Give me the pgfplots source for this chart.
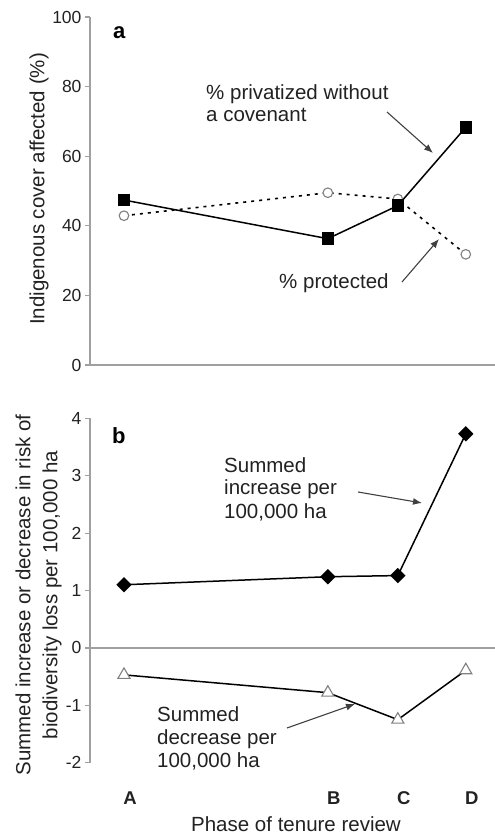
\documentclass[border=0pt]{standalone}
\usepackage{pgfplots}
\pgfplotsset{compat=1.18}
\usetikzlibrary{arrows.meta}
\usepackage{fontspec}
\setmainfont{Liberation Sans}
\definecolor{axgray}{HTML}{A0A0A0}
\definecolor{mkgray}{HTML}{808080}
\definecolor{arrgray}{HTML}{404040}
\definecolor{txt}{HTML}{222222}
\begin{document}
\begin{tikzpicture}[x=1pt,y=1pt]
\useasboundingbox (0,0) rectangle (495,838);
\pgfplotsset{
  every axis/.append style={
    scale only axis, width=405pt, clip=false,
    xmin=0.5, xmax=6.46,
    axis x line*=bottom, axis y line*=left,
    axis line style={axgray, line width=1.2pt},
    tick align=outside, major tick length=5pt,
    tick style={axgray, line width=1.2pt},
    yticklabel style={font=\fontsize{17.5}{17.5}\selectfont, text=txt},
    /pgf/number format/assume math mode=true,
  }
}
% Panel a
\begin{axis}[at={(90pt,473pt)}, anchor=south west, height=348pt,
  ymin=0, ymax=100, ytick={0,20,40,60,80,100}, xtick=\empty]
\addplot[black, line width=1.5pt, mark=square*, mark size=5.5pt, mark options={solid, fill=black}]
  coordinates {(1,47.4) (4,36.3) (5.03,45.8) (6.03,68.3)};
\addplot[black, line width=1.6pt, dash pattern=on 3pt off 5pt, mark=*, mark size=4.8pt, mark options={solid, draw=mkgray, fill=white, line width=1.1pt}]
  coordinates {(1,42.9) (4,49.5) (5.03,47.7) (6.03,31.8)};
\addplot[black, line width=1.5pt, mark=square*, mark size=5.5pt, mark options={solid, fill=black}]
  coordinates {(5.03,45.8)};
\end{axis}
% Panel b
\begin{axis}[at={(90pt,75.3pt)}, anchor=south west, height=344.4pt,
  ymin=-2, ymax=4, ytick={-2,-1,0,1,2,3,4},
  x axis line style={draw=none},
  xtick={1,4,5.03,6.03}, xticklabels={A,B,C,D},
  major x tick style={draw=none},
  xticklabel style={font=\bfseries\fontsize{18.5}{18.5}\selectfont, text=txt, anchor=base, xshift=6pt, yshift=-36.5pt}]
\draw[axgray, line width=1.2pt] (axis cs:0.5,0) -- (axis cs:6.46,0);
\addplot[black, line width=1.5pt, mark=square*, mark size=4.7pt, mark options={rotate=45, fill=black}]
  coordinates {(1,1.10) (4,1.24) (5.03,1.26) (6.03,3.73)};
\addplot[black, line width=1.5pt, mark=triangle*, mark size=7pt, mark options={draw=mkgray, fill=white, line width=1.1pt}]
  coordinates {(1,-0.47) (4,-0.78) (5.03,-1.25) (6.03,-0.39)};
\end{axis}
% Axis labels
\node[rotate=90, font=\fontsize{20.5}{23}\selectfont, text=txt] at (39,649) {Indigenous cover affected (\%)};
\node[rotate=90, align=center, font=\fontsize{20.5}{27}\selectfont, text=txt] at (38.5,243) {Summed increase or decrease in risk of\\biodiversity loss per 100,000 ha};
\node[anchor=base, font=\fontsize{20.5}{23}\selectfont, text=txt, inner sep=0] at (296,6.3) {Phase of tenure review};
% Panel letters
\node[anchor=base west, inner sep=0, font=\bfseries\fontsize{22}{22}\selectfont] at (113,799) {a};
\node[anchor=base west, inner sep=0, font=\bfseries\fontsize{22}{22}\selectfont] at (112,394) {b};
% Annotations
\begin{scope}[every node/.style={anchor=base west, inner sep=0, font=\fontsize{20.5}{23}\selectfont, text=txt}]
\node at (206,738) {\% privatized without};
\node at (206,716) {a covenant};
\node at (279,549) {\% protected};
\node at (224,365.3) {Summed};
\node at (224,343) {increase per};
\node at (224,319) {100,000 ha};
\node at (157,116.3) {Summed};
\node at (157,93) {decrease per};
\node at (157,70) {100,000 ha};
\end{scope}
\begin{scope}[arrgray, line width=1.1pt, -{Latex[length=9pt,width=7pt]}]
\draw (387,726) -- (433,685);
\draw (402,556) -- (439,599);
\draw (358,346) -- (422,335);
\draw (287,110) -- (355,134);
\end{scope}
\end{tikzpicture}
\end{document}
